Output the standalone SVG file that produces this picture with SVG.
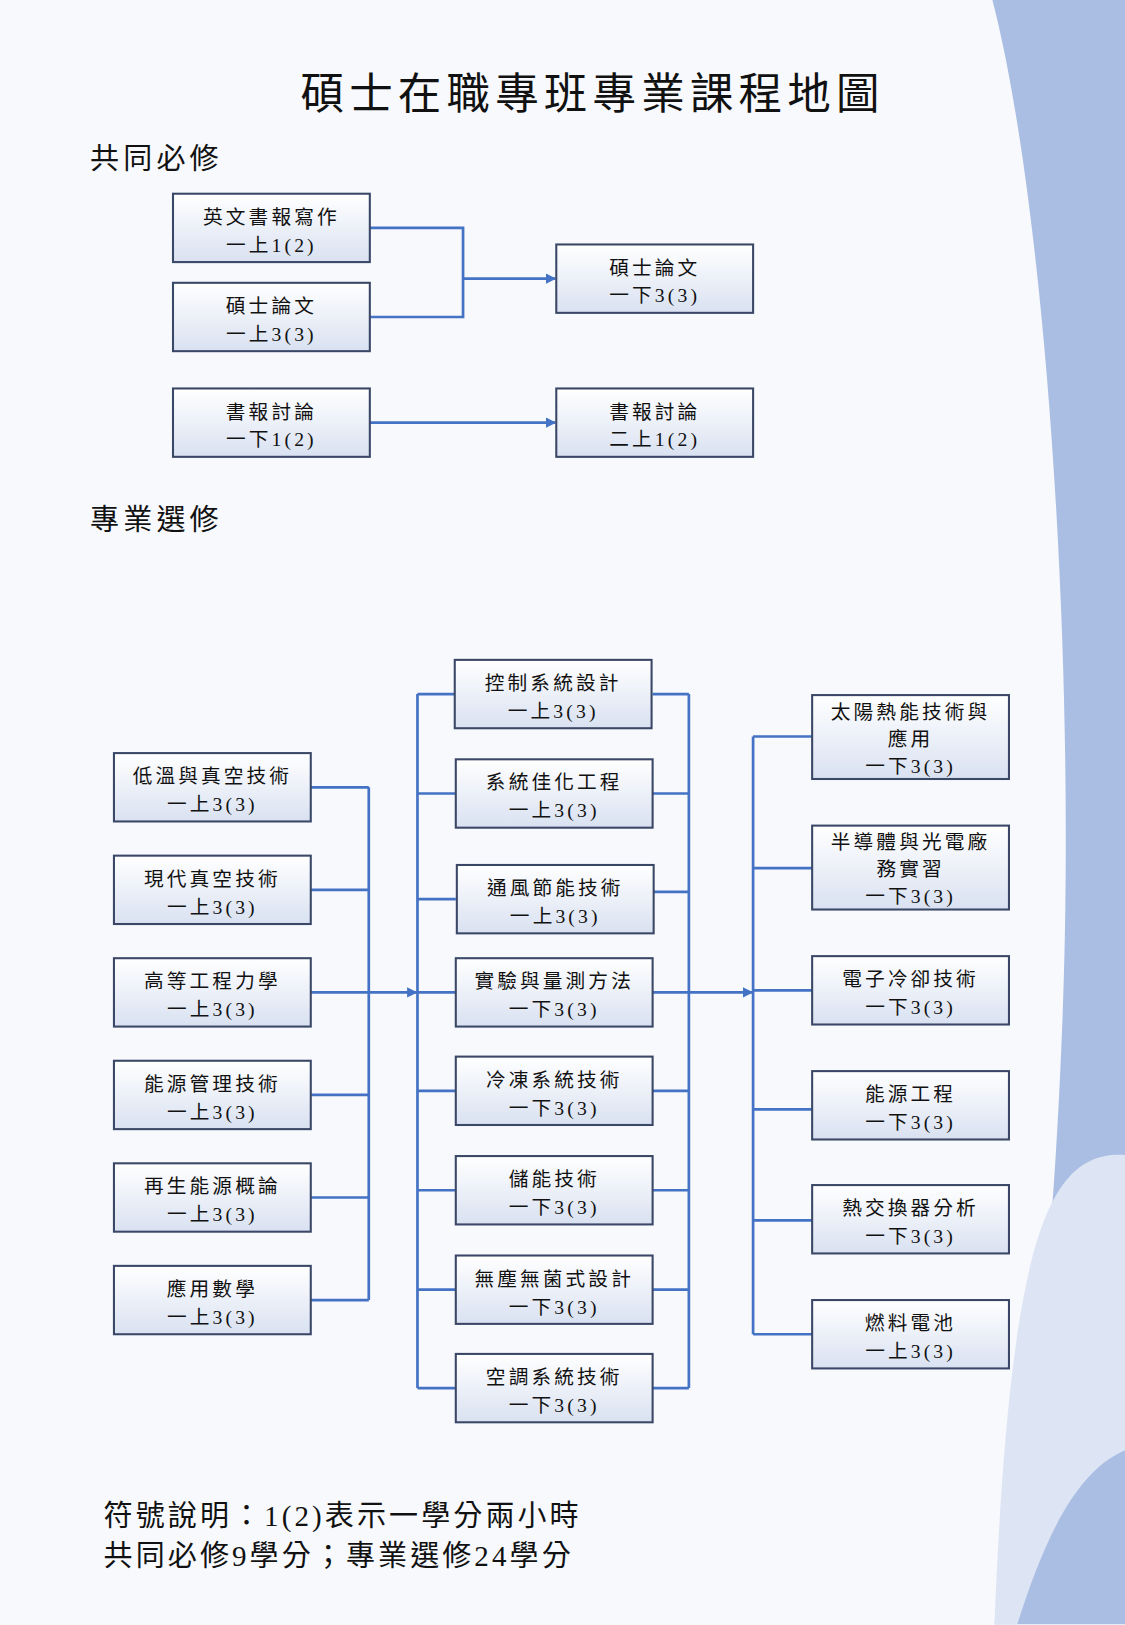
<svg xmlns="http://www.w3.org/2000/svg" width="1125" height="1625" viewBox="0 0 1125 1625">
<defs>
<linearGradient id="g" x1="0" y1="0" x2="0" y2="1"><stop offset="0" stop-color="#ffffff"/><stop offset="1" stop-color="#d9e1f1"/></linearGradient>
<marker id="ar" markerWidth="10" markerHeight="10" refX="9" refY="5" orient="auto" markerUnits="userSpaceOnUse"><path d="M0,0 L10,5 L0,10 Z" fill="#4472c4"/></marker>
<style>
.b{fill:url(#g);stroke:#3a4766;stroke-width:2}
.s{fill:#8a94a8;opacity:.5}
text{font-family:"Liberation Serif","Noto Sans CJK TC",serif;fill:#111}
.t{font-size:19px;text-anchor:middle;letter-spacing:3px}
.c{fill:none;stroke:#4472c4;stroke-width:2.6}
.h{font-size:28px;letter-spacing:4px}
</style>
</defs>
<rect width="1125" height="1625" fill="#f7f9fd"/>
<g transform="scale(1.0359)">
<path d="M958,0 C1010,200 1040,650 1025,1000 C1015,1250 990,1450 960,1568 L1086,1568 L1086,0 Z" fill="#aabee3"/>
<path d="M1086,1115 C1010,1110 975,1200 960,1568 L982,1568 C1010,1480 1040,1420 1086,1400 Z" fill="#dde4f3"/>
<text x="572" y="105" style="font-size:42px;letter-spacing:5px" text-anchor="middle">碩士在職專班專業課程地圖</text>
<text class="h" x="87" y="163">共同必修</text>
<text class="h" x="87" y="512">專業選修</text>
<g id="connectors">
<path class="c" d="M357,220 H447 V306 H357"/>
<path class="c" d="M447,269 H536" marker-end="url(#ar)"/>
<path class="c" d="M357,408 H536" marker-end="url(#ar)"/>
<path class="c" d="M300,760 H356 M300,859 H356 M300,958 H356 M300,1057 H356 M300,1156 H356 M300,1255 H356 M356,760 V1255"/>
<path class="c" d="M356,958 H402" marker-end="url(#ar)"/>
<path class="c" d="M403,670 V1340 M403,670 H440 M403,766 H440 M403,868 H440 M403,958 H440 M403,1053 H440 M403,1149 H440 M403,1245 H440 M403,1340 H440"/>
<path class="c" d="M665,670 V1340 M630,670 H665 M630,766 H665 M630,861 H665 M630,958 H665 M630,1053 H665 M630,1149 H665 M630,1245 H665 M630,1340 H665"/>
<path class="c" d="M665,958 H726" marker-end="url(#ar)"/>
<path class="c" d="M727,711 V1288 M727,711 H784 M727,838 H784 M727,956 H784 M727,1071 H784 M727,1178 H784 M727,1288 H784"/>
</g>
<g id="n1"><rect class="b" x="167" y="187" width="190" height="66"/><text class="t" x="262" y="216">英文書報寫作</text><text class="t" x="262" y="243">一上1(2)</text></g>
<g id="n2"><rect class="b" x="167" y="273" width="190" height="66"/><text class="t" x="262" y="302">碩士論文</text><text class="t" x="262" y="329">一上3(3)</text></g>
<g id="n3"><rect class="b" x="537" y="236" width="190" height="66"/><text class="t" x="632" y="265">碩士論文</text><text class="t" x="632" y="292">一下3(3)</text></g>
<g id="n4"><rect class="b" x="167" y="375" width="190" height="66"/><text class="t" x="262" y="404">書報討論</text><text class="t" x="262" y="431">一下1(2)</text></g>
<g id="n5"><rect class="b" x="537" y="375" width="190" height="66"/><text class="t" x="632" y="404">書報討論</text><text class="t" x="632" y="431">二上1(2)</text></g>
<g id="l1"><rect class="b" x="110" y="727" width="190" height="66"/><text class="t" x="205" y="756">低溫與真空技術</text><text class="t" x="205" y="783">一上3(3)</text></g>
<g id="l2"><rect class="b" x="110" y="826" width="190" height="66"/><text class="t" x="205" y="855">現代真空技術</text><text class="t" x="205" y="882">一上3(3)</text></g>
<g id="l3"><rect class="b" x="110" y="925" width="190" height="66"/><text class="t" x="205" y="954">高等工程力學</text><text class="t" x="205" y="981">一上3(3)</text></g>
<g id="l4"><rect class="b" x="110" y="1024" width="190" height="66"/><text class="t" x="205" y="1053">能源管理技術</text><text class="t" x="205" y="1080">一上3(3)</text></g>
<g id="l5"><rect class="b" x="110" y="1123" width="190" height="66"/><text class="t" x="205" y="1152">再生能源概論</text><text class="t" x="205" y="1179">一上3(3)</text></g>
<g id="l6"><rect class="b" x="110" y="1222" width="190" height="66"/><text class="t" x="205" y="1251">應用數學</text><text class="t" x="205" y="1278">一上3(3)</text></g>
<g id="m1"><rect class="b" x="439" y="637" width="190" height="66"/><text class="t" x="534" y="666">控制系統設計</text><text class="t" x="534" y="693">一上3(3)</text></g>
<g id="m2"><rect class="b" x="440" y="733" width="190" height="66"/><text class="t" x="535" y="762">系統佳化工程</text><text class="t" x="535" y="789">一上3(3)</text></g>
<g id="m3"><rect class="b" x="441" y="835" width="190" height="66"/><text class="t" x="536" y="864">通風節能技術</text><text class="t" x="536" y="891">一上3(3)</text></g>
<g id="m4"><rect class="b" x="440" y="925" width="190" height="66"/><text class="t" x="535" y="954">實驗與量測方法</text><text class="t" x="535" y="981">一下3(3)</text></g>
<g id="m5"><rect class="b" x="440" y="1020" width="190" height="66"/><text class="t" x="535" y="1049">冷凍系統技術</text><text class="t" x="535" y="1076">一下3(3)</text></g>
<g id="m6"><rect class="b" x="440" y="1116" width="190" height="66"/><text class="t" x="535" y="1145">儲能技術</text><text class="t" x="535" y="1172">一下3(3)</text></g>
<g id="m7"><rect class="b" x="440" y="1212" width="190" height="66"/><text class="t" x="535" y="1241">無塵無菌式設計</text><text class="t" x="535" y="1268">一下3(3)</text></g>
<g id="m8"><rect class="b" x="440" y="1307" width="190" height="66"/><text class="t" x="535" y="1336">空調系統技術</text><text class="t" x="535" y="1363">一下3(3)</text></g>
<g id="r1"><rect class="b" x="784" y="671" width="190" height="81"/><text class="t" x="879" y="694">太陽熱能技術與</text><text class="t" x="879" y="720">應用</text><text class="t" x="879" y="746">一下3(3)</text></g>
<g id="r2"><rect class="b" x="784" y="797" width="190" height="81"/><text class="t" x="879" y="820">半導體與光電廠</text><text class="t" x="879" y="846">務實習</text><text class="t" x="879" y="872">一下3(3)</text></g>
<g id="r3"><rect class="b" x="784" y="923" width="190" height="66"/><text class="t" x="879" y="952">電子冷卻技術</text><text class="t" x="879" y="979">一下3(3)</text></g>
<g id="r4"><rect class="b" x="784" y="1034" width="190" height="66"/><text class="t" x="879" y="1063">能源工程</text><text class="t" x="879" y="1090">一下3(3)</text></g>
<g id="r5"><rect class="b" x="784" y="1144" width="190" height="66"/><text class="t" x="879" y="1173">熱交換器分析</text><text class="t" x="879" y="1200">一下3(3)</text></g>
<g id="r6"><rect class="b" x="784" y="1255" width="190" height="66"/><text class="t" x="879" y="1284">燃料電池</text><text class="t" x="879" y="1311">一上3(3)</text></g>
<text class="h" x="100" y="1473" style="letter-spacing:3px">符號說明：1(2)表示一學分兩小時</text>
<text class="h" x="100" y="1512" style="letter-spacing:3px">共同必修9學分；專業選修24學分</text>
</g>
</svg>
